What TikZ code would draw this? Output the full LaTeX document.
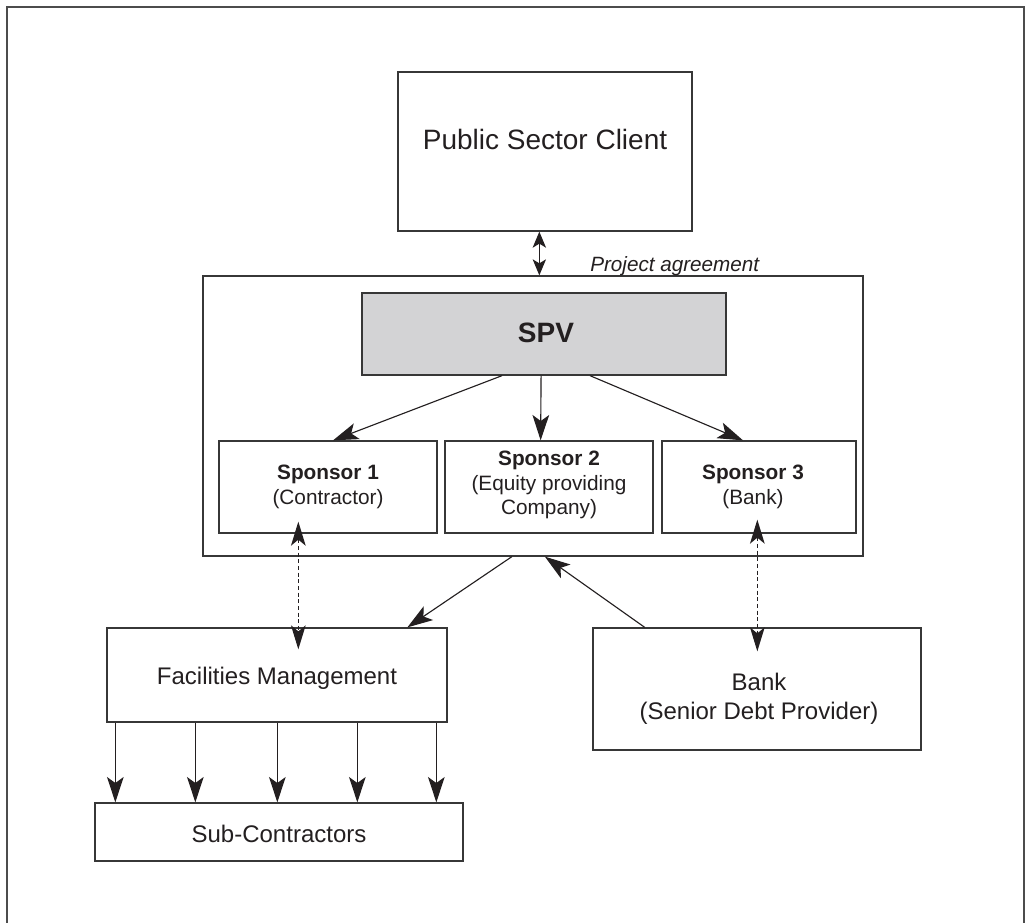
\documentclass[tikz,border=0pt]{standalone}
\usepackage{fontspec}
\setmainfont{Liberation Sans}
\usetikzlibrary{arrows.meta,calc,fit}
\definecolor{spvgray}{RGB}{211,211,213}
\definecolor{ink}{RGB}{35,31,32}
\definecolor{edge}{RGB}{55,55,55}
\begin{document}
\begin{tikzpicture}[x=0.75pt,y=-0.75pt,
  box/.style={draw=edge,line width=1pt,inner sep=0pt},
  txt/.style={align=center,text=ink,inner sep=0pt,anchor=center},
  conn/.style={draw=ink,line width=0.85pt,-{Stealth[length=19pt,width=12.5pt,inset=4.5pt]}},
  dconn/.style={draw=ink,line width=0.85pt,dash pattern=on 3pt off 2pt,{Stealth[length=18pt,width=11pt,inset=4.5pt]}-{Stealth[length=18pt,width=11pt,inset=4.5pt]}},
  bothconn/.style={draw=ink,line width=0.85pt,{Stealth[length=12pt,width=10pt,inset=3pt]}-{Stealth[length=12pt,width=10pt,inset=3pt]}}]
\useasboundingbox (0,0) rectangle (1025,922);
\draw[draw=gray!60!black,line width=1.5pt] (7,925) -- (7,7) -- (1024,7) -- (1024,925);

% boxes
\node[box,fit={(398,72) (692,231)}] (psc) {};
\node[box,fit={(203,276) (863,556)}] (cont) {};
\node[box,fill=spvgray,fit={(362,293) (726,375)}] (spv) {};
\node[box,fit={(219,441) (437,533)}] (s1) {};
\node[box,fit={(445,441) (653,533)}] (s2) {};
\node[box,fit={(662,441) (856,533)}] (s3) {};
\node[box,fit={(107,628) (447,722)}] (fm) {};
\node[box,fit={(593,628) (921,750)}] (bank) {};
\node[box,fit={(95,803) (463,861)}] (sc) {};

% texts
\node[txt,font=\fontsize{21}{25}\selectfont] (psct) at (545,139) {Public Sector Client};
\node[txt,font=\fontsize{21}{25}\selectfont\bfseries] (spvt) at (546,333) {SPV};
\node[txt,font=\fontsize{15.6}{18.5}\selectfont] (s1t) at (328,487) {\textbf{Sponsor 1}\\(Contractor)};
\node[txt,font=\fontsize{15.6}{18.5}\selectfont] (s2t) at (549,485) {\textbf{Sponsor 2}\\(Equity providing\\Company)};
\node[txt,font=\fontsize{15.6}{18.5}\selectfont] (s3t) at (753,487) {\textbf{Sponsor 3}\\(Bank)};
\node[txt,font=\fontsize{18}{21}\selectfont] (fmt) at (277,678) {Facilities Management};
\node[txt,font=\fontsize{18}{21.75}\selectfont] (bankt) at (759,699) {Bank\\(Senior Debt Provider)};
\node[txt,font=\fontsize{18}{21}\selectfont] (sct) at (279,834) {Sub-Contractors};
\node[anchor=west,text=ink,inner sep=0pt,font=\fontsize{15.5}{18}\selectfont\itshape] (pa) at (590,266) {Project agreement};

% project agreement arrow
\path ($(psc.south west)+(142,0)$) coordinate (pa1);
\draw[bothconn] (pa1) -- (pa1 |- cont.north);

% SPV to sponsors
\draw[conn] ($(spv.south west)!0.385!(spv.south east)$) -- ($(s1.north west)!0.523!(s1.north east)$);
\draw[conn] ($(spv.south west)!0.492!(spv.south east)$) -- ($(s2.north west)!0.46!(s2.north east)$);
\draw[conn] ($(spv.south west)!0.626!(spv.south east)$) -- ($(s3.north west)!0.418!(s3.north east)$);

% dotted links
\draw[dconn] ($(s1.south west)+(80,-12)$) -- ($(fm.north west)+(192,22)$);
\draw[dconn] ($(s3.south west)+(96,-14)$) -- ($(bank.north west)+(165,24)$);

% container <-> FM / Bank
\draw[conn] ($(cont.south west)!0.468!(cont.south east)$) -- ($(fm.north west)!0.882!(fm.north east)$);
\draw[conn] ($(bank.north west)!0.159!(bank.north east)$) -- ($(cont.south west)!0.518!(cont.south east)$);

% FM to sub-contractors
\foreach \dx [count=\i] in {9,89,171,251,330} {
  \path ($(fm.south west)+(\dx,0)$) coordinate (f\i);
  \draw[conn] (f\i) -- (f\i |- sc.north);
}
\end{tikzpicture}
\end{document}
